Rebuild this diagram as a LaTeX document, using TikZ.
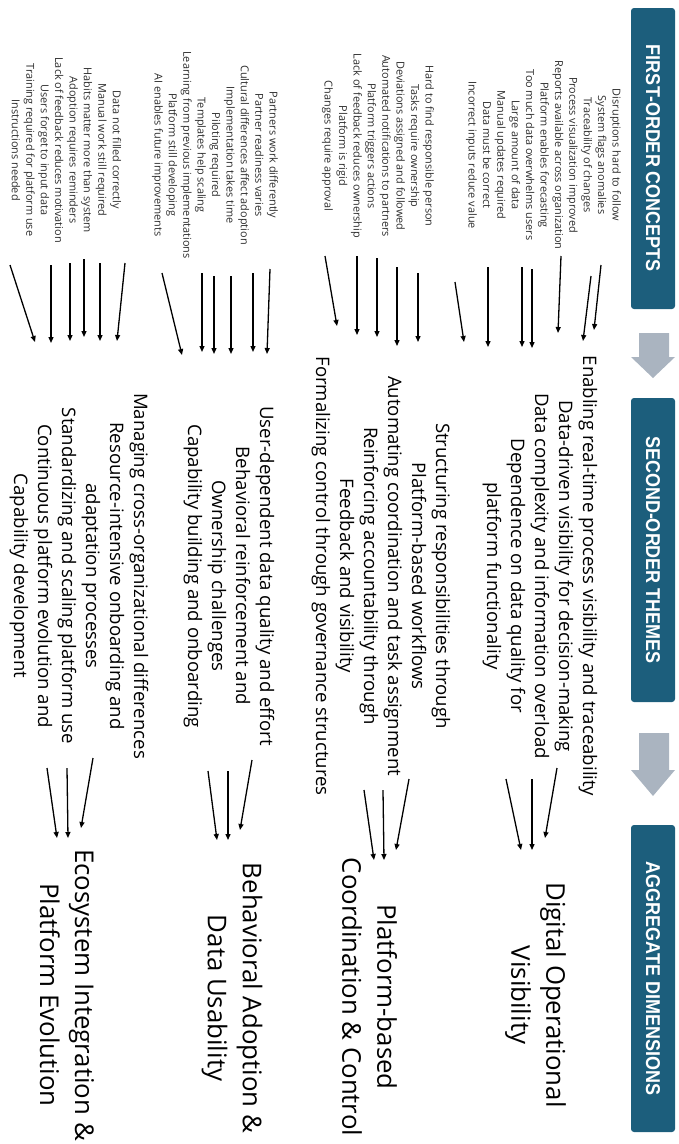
\documentclass[tikz,border=0pt]{standalone}
\usepackage{fontspec}
\setmainfont{Open Sans}
\newfontfamily\hdrfont{Liberation Sans}[FakeStretch=0.9]
\usetikzlibrary{arrows.meta}
\definecolor{hdrteal}{RGB}{28,94,124}
\definecolor{flowgray}{RGB}{170,180,192}
\definecolor{conceptgray}{RGB}{45,45,45}
\begin{document}
\begin{tikzpicture}[x=1pt,y=-1pt,
  concept/.style={rotate=-90, align=center, inner sep=0pt, text=conceptgray,
    font=\fontsize{10.9}{14.4}\selectfont},
  theme/.style={rotate=-90, align=center, inner sep=0pt,
    font=\fontsize{18.6}{24}\selectfont},
  dimension/.style={rotate=-90, align=center, inner sep=0pt,
    font=\fontsize{25.8}{35}\selectfont},
  header/.style={rotate=-90, fill=hdrteal, rounded corners=3pt, text=white,
    minimum height=44pt, inner sep=0pt,
    font=\hdrfont\bfseries\fontsize{20}{24}\selectfont},
  link/.style={line width=1.3pt, -{Triangle[length=6pt,width=5pt]}},
  flow/.style={fill=flowgray}]

\useasboundingbox (0,0) rectangle (678,1144);

% column headers
\node[header, minimum width=301pt] (h1) at (653,158.5) {FIRST-ORDER CONCEPTS};
\node[header, minimum width=304pt] (h2) at (653,550) {SECOND-ORDER THEMES};
\node[header, minimum width=307pt] (h3) at (653,978.5) {AGGREGATE DIMENSIONS};

% block arrows between the headers
\fill[flow] (639,333) -- (669,333) -- (669,357) -- (675,357) -- (653,378)
  -- (631,357) -- (639,357) -- cycle;
\fill[flow] (639,733) -- (669,733) -- (669,770) -- (675,770) -- (653,796)
  -- (631,770) -- (639,770) -- cycle;

% first-order concepts
\node[concept] (fA) at (543.5,155) {Disruptions hard to follow\\ System flags anomalies\\
  Traceability of changes\\ Process visualization improved\\
  Reports available across organization\\ Platform enables forecasting\\
  Too much data overwhelms users\\ Large amount of data\\ Manual updates required\\
  Data must be correct\\ Incorrect inputs reduce value};
\node[concept] (fB) at (378,146) {Hard to find responsible person\\ Tasks require ownership\\
  Deviations assigned and followed\\ Automated notifications to partners\\
  Platform triggers actions\\ Lack of feedback reduces ownership\\
  Platform is rigid\\ Changes require approval};
\node[concept] (fC) at (215,155) {Partners work differently\\ Partner readiness varies\\
  Cultural differences affect adoption\\ Implementation takes time\\
  Piloting required\\ Templates help scaling\\
  Learning from previous implementations\\ Platform still developing\\
  AI enables future improvements};
\node[concept] (fD) at (66.5,150) {Data not filled correctly\\ Manual work still required\\
  Habits matter more than system\\ Adoption requires reminders\\
  Lack of feedback reduces motivation\\ Users forget to input data\\
  Training required for platform use\\ Instructions needed};

% second-order themes
\node[theme] (tA) at (540,576) {Enabling real-time process visibility and traceability\\
  Data-driven visibility for decision-making\\
  Data complexity and information overload\\
  Dependence on data quality for\\ platform functionality};
\node[theme] (tB) at (381,576) {Structuring responsibilities through\\
  Platform-based workflows\\ Automating coordination and task assignment\\
  Reinforcing accountability through\\ Feedback and visibility\\
  Formalizing control through governance structures};
\node[theme] (tC) at (229,576) {User-dependent data quality and effort\\
  Behavioral reinforcement and\\ Ownership challenges\\
  Capability building and onboarding};
\node[theme] (tD) at (79,576) {Managing cross-organizational differences\\
  Resource-intensive onboarding and\\ adaptation processes\\
  Standardizing and scaling platform use\\
  Continuous platform evolution and\\ Capability development};

% aggregate dimensions
\node[dimension] (dA) at (535.5,995) {Digital Operational\\ Visibility};
\node[dimension] (dB) at (369.5,997) {Platform-based\\ Coordination \& Control};
\node[dimension] (dC) at (232,998) {Behavioral Adoption \&\\ Data Usability};
\node[dimension] (dD) at (67,995) {Ecosystem Integration \&\\ Platform Evolution};

% links from concepts to themes
\foreach \n/\sx/\sy/\ex/\ey in {
  d1/10/265/35/342, d2/51/265/51/343, d3/70/263/70/341, d4/84/259/84/337,
  d5/100/263/100/341, d6/125/263/117/341,
  c1/162/273/182/355, c2/202/273/202/352, c3/214/276/214/354, c4/231/276/231/354,
  c5/253/273/253/352, c6/270/269/267/354,
  b1/325/256/337/326, b2/357/256/357/335, b3/377/258/377/337, b4/397/267/397/346,
  b5/418/273/418/342,
  a1/455/282/464/342, a2/488/267/488/347, a3/522/267/522/347, a4/532/269/532/348,
  a5/561/256/558/333, a6/591/276/583/341, a7/601/265/594/330}{
  \coordinate (fs-\n) at (\sx,\sy);
  \coordinate (fe-\n) at (\ex,\ey);
  \draw[link] (fs-\n) -- (fe-\n);
}

% links from themes to aggregate dimensions
\foreach \n/\sx/\sy/\ex/\ey in {
  a1/557/768/545/838, a2/532/779/532/850, a3/506/779/521/850,
  b1/409/779/396/850, b2/383/790/384/860, b3/364/790/374/860,
  c1/252/760/240/830, c2/228/771/228/840, c3/208/771/217/840,
  d1/93/758/81/828, d2/67/768/68/838, d3/47/768/57/838}{
  \coordinate (ts-\n) at (\sx,\sy);
  \coordinate (te-\n) at (\ex,\ey);
  \draw[link] (ts-\n) -- (te-\n);
}
\end{tikzpicture}
\end{document}
